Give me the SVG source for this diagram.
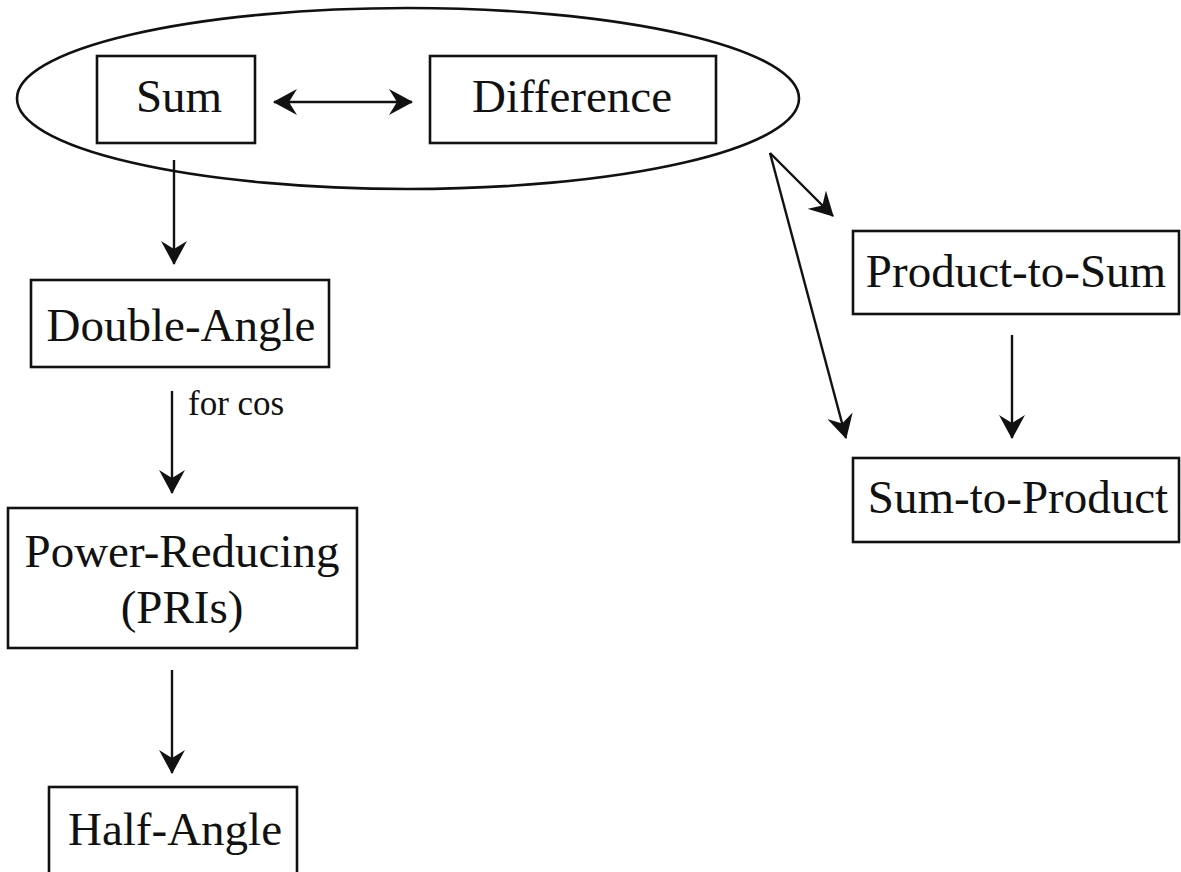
<svg xmlns="http://www.w3.org/2000/svg" width="1181" height="872" viewBox="0 0 1181 872">
<style>
.box{fill:#fff;stroke:#111;stroke-width:2.6}
.lbl{font-family:"Liberation Serif","Times New Roman",serif;font-size:47px;fill:#111;text-anchor:middle}
.small{font-family:"Liberation Serif","Times New Roman",serif;font-size:35px;fill:#111}
.conn{stroke:#111;stroke-width:2.4;fill:none}
</style>
<defs>
<marker id="ah" markerUnits="userSpaceOnUse" viewBox="0 0 24 26" markerWidth="24" markerHeight="26" refX="23" refY="13" orient="auto-start-reverse">
<path d="M24,13 Q13,7 0,0 L8,13 L0,26 Q13,19 24,13 Z" fill="#111"/>
</marker>
</defs>
<rect width="1181" height="872" fill="#fff"/>
<g id="group-ellipse">
<ellipse cx="408" cy="98.5" rx="391" ry="90.5" fill="none" stroke="#111" stroke-width="2.6"/>
</g>
<g id="node-sum">
<rect class="box" x="97" y="56" width="158" height="87"/>
<text class="lbl" x="179" y="112">Sum</text>
</g>
<g id="node-difference">
<rect class="box" x="430" y="56" width="286" height="87"/>
<text class="lbl" x="572" y="112">Difference</text>
</g>
<g id="node-double-angle">
<rect class="box" x="31" y="280" width="298" height="87"/>
<text class="lbl" x="181" y="341">Double-Angle</text>
</g>
<g id="node-power-reducing">
<rect class="box" x="8" y="508" width="349" height="140"/>
<text class="lbl" x="182" y="567">Power-Reducing</text>
<text class="lbl" x="182" y="623">(PRIs)</text>
</g>
<g id="node-half-angle">
<rect class="box" x="49" y="787" width="248" height="100"/>
<text class="lbl" x="175" y="845">Half-Angle</text>
</g>
<g id="node-product-to-sum">
<rect class="box" x="853" y="231" width="326" height="83"/>
<text class="lbl" x="1016" y="287">Product-to-Sum</text>
</g>
<g id="node-sum-to-product">
<rect class="box" x="853" y="458" width="326" height="84"/>
<text class="lbl" x="1018" y="513">Sum-to-Product</text>
</g>
<g id="connectors">
<line class="conn" x1="274" y1="102" x2="412" y2="102" marker-start="url(#ah)" marker-end="url(#ah)"/>
<line class="conn" x1="174" y1="160" x2="174" y2="264" marker-end="url(#ah)"/>
<line class="conn" x1="172" y1="391" x2="172" y2="493" marker-end="url(#ah)"/>
<text class="small" x="188" y="415">for cos</text>
<line class="conn" x1="172" y1="670" x2="172" y2="773" marker-end="url(#ah)"/>
<line class="conn" x1="770" y1="153" x2="833" y2="216" marker-end="url(#ah)"/>
<line class="conn" x1="770" y1="153" x2="846" y2="438" marker-end="url(#ah)"/>
<line class="conn" x1="1012" y1="335" x2="1012" y2="438" marker-end="url(#ah)"/>
</g>
</svg>
